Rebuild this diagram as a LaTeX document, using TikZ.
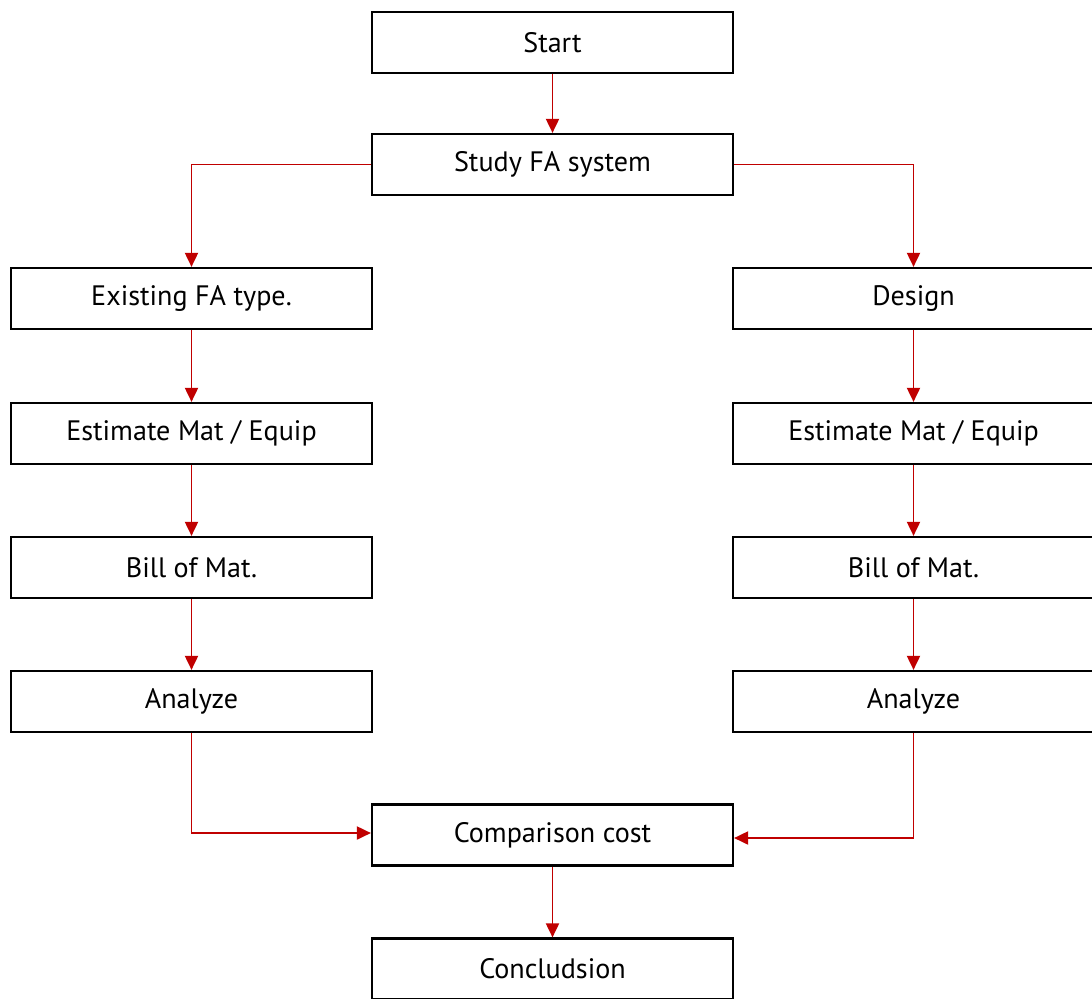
\documentclass[tikz,border=0pt]{standalone}
\usepackage{fontspec}
\setmainfont{PT Sans}
\usepackage{xcolor}
\usetikzlibrary{positioning, arrows.meta}
\definecolor{flowred}{HTML}{C00000}

\begin{document}
\begin{tikzpicture}[x=0.02cm, y=-0.02cm, >={Triangle[length=8pt, width=7.5pt]},
    box/.style={draw=black, line width=1.3pt, fill=white, minimum width=7.22cm, minimum height=1.22cm, inner sep=0pt, font=\fontsize{16}{19}\selectfont},
    flow/.style={->, color=flowred, line width=0.9pt}]
            \clip (0,0) rectangle (1092,998);
            \node[box] (start) at (552.5, 42.5) {Start};
            \node[box] (study) at (552.5, 164.5) {Study FA system};
            % left branch
            \node[box] (exist) at (191.5, 298.5) {Existing FA type.};
            \node[box] (estL) at (191.5, 433.5) {Estimate Mat / Equip};
            \node[box] (billL) at (191.5, 567.5) {Bill of Mat.};
            \node[box] (anaL) at (191.5, 701.5) {Analyze};
            % right branch
            \node[box] (design) at (913.5, 298.5) {Design};
            \node[box] (estR) at (913.5, 433.5) {Estimate Mat / Equip};
            \node[box] (billR) at (913.5, 567.5) {Bill of Mat.};
            \node[box] (anaR) at (913.5, 701.5) {Analyze};

            \node[box] (comp) at (552.5, 835) {Comparison cost};
            \node[box] (concl) at (552.5, 969) {Concludsion};

            \path[flow]
            (start) edge (study)
            (exist) edge (estL)
            (estL) edge (billL)
            (billL) edge (anaL)
            (design) edge (estR)
            (estR) edge (billR)
            (billR) edge (anaR)
            (comp) edge (concl);

            \draw[flow] (study.west) -| (exist.north);
            \draw[flow] (study.east) -| (design.north);
            \draw[flow] (anaL.south) |- ([yshift=0.04cm]comp.west);
            \draw[flow] (anaR.south) |- ([yshift=-0.06cm]comp.east);
        \end{tikzpicture}
\end{document}
